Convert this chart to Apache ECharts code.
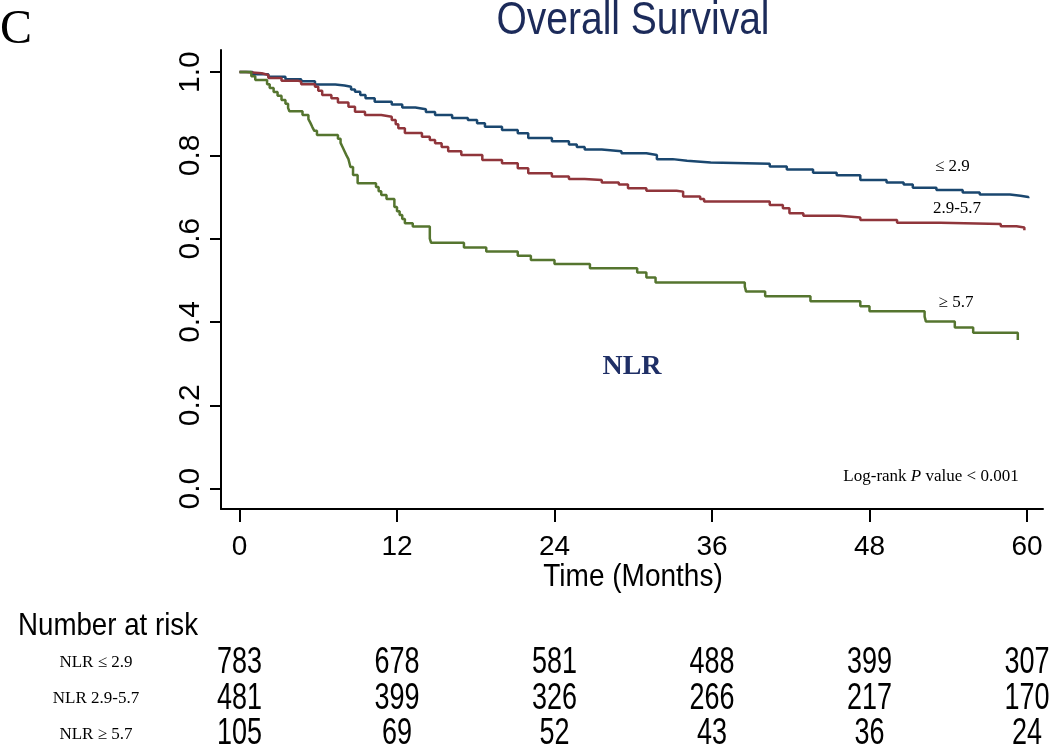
<!DOCTYPE html>
<html>
<head>
<meta charset="utf-8">
<script src="https://cdn.jsdelivr.net/npm/echarts@6/dist/echarts.min.js"></script>
<style>html,body{margin:0;padding:0;background:#fff}#c{width:1050px;height:752px}</style>
</head>
<body>
<div id="c"></div>
<script>
// ---- data ----
const xTicks = [0, 12, 24, 36, 48, 60];
const yTicks = [0, 0.2, 0.4, 0.6, 0.8, 1.0];

// Kaplan-Meier steps: [time (months), survival]
const nlrLow = [[0,1.0],[1.0,0.995],[2.2,0.989],[3.5,0.983],[4.7,0.978],[5.75,0.970],[7.3,0.968],[8.0,0.965],[8.5,0.958],[8.8,0.953],[9.2,0.945],[9.6,0.937],[10.3,0.929],[11.6,0.922],[12.4,0.915],[13.4,0.911],[14.2,0.904],[14.9,0.897],[16.2,0.890],[17.4,0.885],[18.1,0.877],[18.7,0.869],[20.0,0.861],[21.2,0.853],[22.0,0.842],[23.8,0.834],[25.1,0.826],[25.7,0.820],[26.3,0.814],[27.6,0.810],[29.1,0.805],[31.0,0.801],[31.8,0.791],[33.0,0.787],[34.1,0.783],[35.9,0.780],[40.4,0.773],[41.7,0.766],[43.7,0.758],[45.5,0.752],[47.3,0.741],[49.3,0.735],[50.6,0.730],[51.3,0.722],[53.1,0.717],[55.1,0.711],[56.4,0.706],[58.7,0.703],[59.5,0.700],[60.1,0.697]];
const nlrMid = [[0,1.0],[0.5,0.997],[1.7,0.993],[2.2,0.986],[3.2,0.979],[4.5,0.977],[4.7,0.971],[5.75,0.965],[6.0,0.955],[6.3,0.945],[7.0,0.937],[7.5,0.927],[8.3,0.917],[8.8,0.905],[9.56,0.897],[10.8,0.893],[11.6,0.885],[11.9,0.875],[12.1,0.865],[12.6,0.854],[13.9,0.845],[14.5,0.837],[14.9,0.829],[15.4,0.820],[15.9,0.810],[16.9,0.801],[18.5,0.789],[20.0,0.781],[21.2,0.769],[22.0,0.757],[23.8,0.749],[25.1,0.743],[26.3,0.741],[27.6,0.735],[28.9,0.730],[29.6,0.721],[31.0,0.715],[33.3,0.713],[33.8,0.701],[35.1,0.695],[35.4,0.689],[40.4,0.681],[41.4,0.673],[41.9,0.661],[42.96,0.655],[45.7,0.651],[47.3,0.645],[50.1,0.638],[53.4,0.635],[58.0,0.630],[59.2,0.627],[59.8,0.620]];
const nlrHigh = [[0,1.0],[0.9,0.990],[1.2,0.981],[2.1,0.971],[2.3,0.962],[2.6,0.952],[2.9,0.943],[3.2,0.933],[3.5,0.924],[3.7,0.914],[3.8,0.906],[4.8,0.897],[5.25,0.887],[5.4,0.878],[5.55,0.868],[5.7,0.859],[5.9,0.849],[7.5,0.840],[7.7,0.830],[7.85,0.820],[8.0,0.810],[8.15,0.800],[8.3,0.791],[8.45,0.772],[8.65,0.753],[9.0,0.733],[10.4,0.724],[10.6,0.714],[10.8,0.705],[11.2,0.695],[11.8,0.676],[12.0,0.666],[12.2,0.657],[12.4,0.647],[12.6,0.637],[13.2,0.629],[14.5,0.600],[14.6,0.590],[17.1,0.579],[18.8,0.569],[21.2,0.559],[22.2,0.549],[24.0,0.539],[26.7,0.529],[30.3,0.519],[31.0,0.507],[31.7,0.495],[38.5,0.485],[38.6,0.473],[40.05,0.462],[43.5,0.450],[47.3,0.438],[48.0,0.426],[52.2,0.413],[52.3,0.401],[54.5,0.387],[55.9,0.374],[59.3,0.357]];

// Number at risk table
const riskRows = ['NLR \u2264 2.9', 'NLR 2.9-5.7', 'NLR \u2265 5.7'];
const riskLow  = [783, 678, 581, 488, 399, 307];
const riskMid  = [481, 399, 326, 266, 217, 170];
const riskHigh = [105, 69, 52, 43, 36, 24];

// ---- chart ----
const SANS = "'Liberation Sans',Arial,sans-serif";
const SERIF = "'Liberation Serif','Times New Roman',serif";
const COL_LOW = '#1a476f', COL_MID = '#90353b', COL_HIGH = '#55752f';

const riskData = [];
[riskLow, riskMid, riskHigh].forEach((arr, r) => {
  arr.forEach((n, i) => riskData.push([xTicks[i], r, n]));
});

function txt(x, y, text, size, opts) {
  opts = opts || {};
  return {
    type: 'text', x: x, y: y, scaleX: opts.sx || 1, scaleY: opts.sy || 1,
    style: {
      x: 0, y: 0, text: text, fontSize: size, fontFamily: opts.family || SANS,
      fontWeight: opts.weight || 'normal', fill: opts.color || '#000',
      align: opts.align || 'center', verticalAlign: 'middle',
      textAlign: opts.align || 'center', textVerticalAlign: 'middle',
      rich: opts.rich
    }
  };
}

const chart = echarts.init(document.getElementById('c'), null, {renderer: 'canvas'});
chart.setOption({
  animation: false,
  backgroundColor: '#fff',
  grid: [
    {left: 221, right: 7, top: 50, bottom: 243},
    {left: 221, right: 7, top: 645, height: 116}
  ],
  xAxis: [
    {
      type: 'value', gridIndex: 0, min: -1.41, max: 61.22,
      axisLine: {onZero: false, lineStyle: {color: '#000', width: 2}},
      axisTick: {customValues: xTicks, length: 13, lineStyle: {color: '#000', width: 2}},
      axisLabel: {customValues: xTicks, margin: 24, fontSize: 28, color: '#000', fontFamily: SANS},
      splitLine: {show: false}
    },
    {type: 'value', gridIndex: 1, min: -1.41, max: 61.22, show: false}
  ],
  yAxis: [
    {
      type: 'value', gridIndex: 0, min: -0.049, max: 1.053,
      axisLine: {onZero: false, lineStyle: {color: '#000', width: 2}},
      axisTick: {customValues: yTicks, length: 11, lineStyle: {color: '#000', width: 2}},
      axisLabel: {customValues: yTicks, rotate: 90, margin: 15, fontSize: 30, color: '#000', fontFamily: SANS,
        formatter: v => v.toFixed(1)},
      splitLine: {show: false}
    },
    {
      type: 'category', gridIndex: 1, data: riskRows, inverse: true,
      axisLine: {show: false}, axisTick: {show: false}, splitLine: {show: false},
      axisLabel: {align: 'center', margin: 125, fontSize: 17, color: '#000', fontFamily: SERIF}
    }
  ],
  series: [
    {type: 'line', name: 'NLR <= 2.9', xAxisIndex: 0, yAxisIndex: 0, step: 'end', showSymbol: false, symbol: 'none',
      data: nlrLow, lineStyle: {color: COL_LOW, width: 2.5}, itemStyle: {color: COL_LOW}},
    {type: 'line', name: 'NLR 2.9-5.7', xAxisIndex: 0, yAxisIndex: 0, step: 'end', showSymbol: false, symbol: 'none',
      data: nlrMid, lineStyle: {color: COL_MID, width: 2.5}, itemStyle: {color: COL_MID}},
    {type: 'line', name: 'NLR >= 5.7', xAxisIndex: 0, yAxisIndex: 0, step: 'end', showSymbol: false, symbol: 'none',
      data: nlrHigh, lineStyle: {color: COL_HIGH, width: 2.5}, itemStyle: {color: COL_HIGH}},
    {type: 'custom', xAxisIndex: 1, yAxisIndex: 1, data: riskData, encode: {x: 0, y: 1},
      renderItem: function (params, api) {
        const c = api.coord([api.value(0), api.value(1)]);
        return {
          type: 'text', x: c[0], y: c[1], scaleY: 1.38,
          style: {x: 0, y: 0, text: String(api.value(2)), fontSize: 27, fontFamily: SANS, fill: '#000',
            align: 'center', verticalAlign: 'middle'}
        };
      }}
  ],
  graphic: [
    txt(0, 30, 'C', 48, {family: SERIF, align: 'left'}),
    txt(633, 21.5, 'Overall Survival', 39, {sy: 1.18, color: '#1c2b5a'}),
    txt(633, 578, 'Time (Months)', 28, {sy: 1.1}),
    txt(18, 626, 'Number at risk', 27.7, {sy: 1.12, align: 'left'}),
    txt(935, 167, '\u2264 2.9', 17, {family: SERIF, align: 'left'}),
    txt(957, 209, '2.9-5.7', 17, {family: SERIF}),
    txt(956, 303, '\u2265 5.7', 17, {family: SERIF}),
    txt(632, 367, 'NLR', 28, {family: SERIF, weight: 'bold', color: '#1f2f66'}),
    txt(931, 477, '{a|Log-rank }{b|P}{a| value < 0.001}', 17, {family: SERIF,
      rich: {a: {fontSize: 17, fontFamily: SERIF, color: '#000'}, b: {fontSize: 17, fontFamily: SERIF, fontStyle: 'italic', color: '#000'}}})
  ]
});
</script>
</body>
</html>
